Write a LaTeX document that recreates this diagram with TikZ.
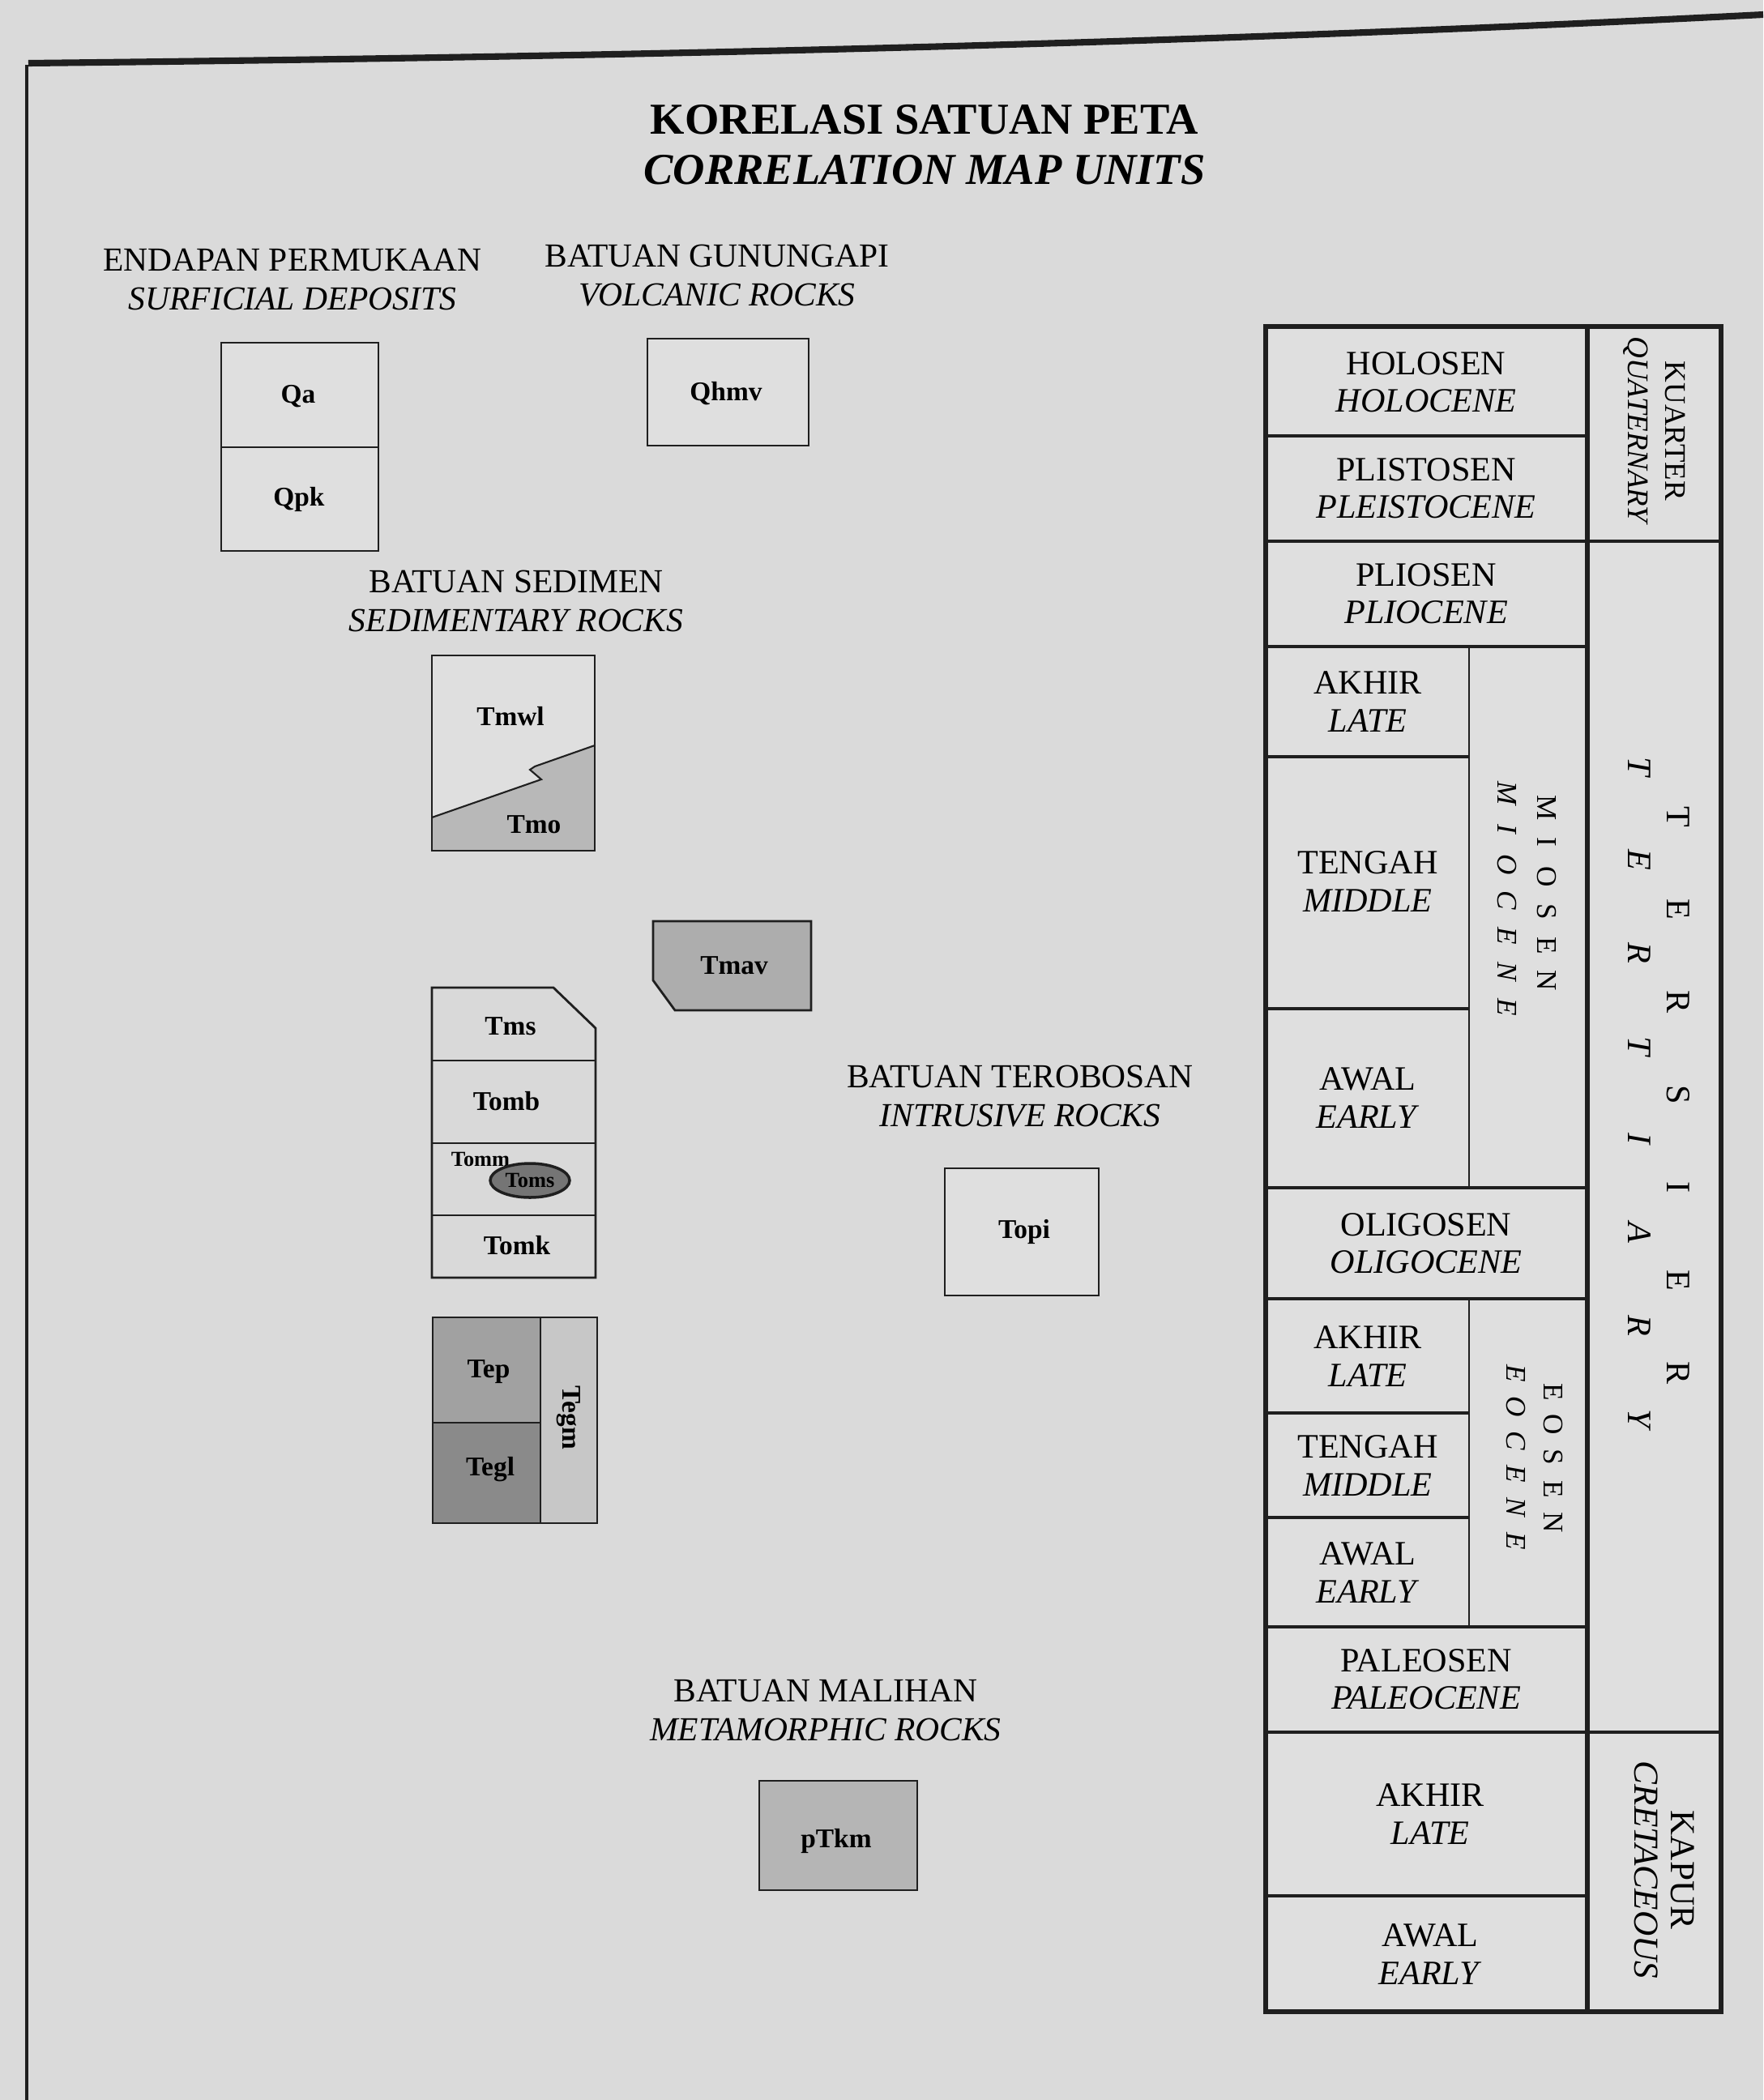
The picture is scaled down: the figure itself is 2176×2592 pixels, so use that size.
\documentclass[tikz,border=0pt]{standalone}
\usepackage{fontspec}
\setmainfont{Liberation Serif}
\usepackage{tikz}
\usetikzlibrary{positioning, shapes.geometric, calc}

\definecolor{paper}{gray}{0.855}
\definecolor{boxlight}{gray}{0.875}
\definecolor{tmsfill}{gray}{0.85}
\definecolor{tmofill}{gray}{0.72}
\definecolor{tmavfill}{gray}{0.68}
\definecolor{tepfill}{gray}{0.63}
\definecolor{teglfill}{gray}{0.54}
\definecolor{tegmfill}{gray}{0.78}
\definecolor{ptkmfill}{gray}{0.71}
\definecolor{tomsfill}{gray}{0.46}
\definecolor{inkc}{gray}{0.12}

\begin{document}
\begin{tikzpicture}[x=0.1mm, y=-0.1mm,
    unitbox/.style={draw=inkc, line width=0.8pt, fill=#1},
    unitbox/.default=boxlight,
    thin rule/.style={draw=inkc, line width=0.8pt},
    code/.style={font=\bfseries\fontsize{9.5}{11}\selectfont, inner sep=1pt},
    head/.style={align=center, font=\fontsize{11.8}{13.6}\selectfont},
    era/.style={align=center, font=\fontsize{12}{13.2}\selectfont},
    period/.style={align=center, rotate=-90, font=\fontsize{10.5}{13}\selectfont},
    vlet/.style={rotate=-90, inner sep=0pt},
    scaleline/.style={draw=inkc, line width=1.1pt},
]
\fill[paper] (0,0) rectangle (2176,2592);
\useasboundingbox (0,0) rectangle (2176,2592);

\draw[inkc, line width=2.3pt] (35,78) .. controls (760,70) and (1450,55) .. (2176,18);
\draw[inkc, line width=1.1pt] (33,80) -- (33,2592);

\node[align=center, font=\bfseries\fontsize{15.5}{17.6}\selectfont] (title) at (1141,179) {KORELASI SATUAN PETA\\\textit{CORRELATION MAP UNITS}};

\node[head] (surf) at (361,345) {ENDAPAN PERMUKAAN\\\textit{SURFICIAL DEPOSITS}};
\node[head] (volc) at (885,340) {BATUAN GUNUNGAPI\\\textit{VOLCANIC ROCKS}};
\node[head] (sedi) at (637,742) {BATUAN SEDIMEN\\\textit{SEDIMENTARY ROCKS}};
\node[head] (intr) at (1259,1353) {BATUAN TEROBOSAN\\\textit{INTRUSIVE ROCKS}};
\node[head] (meta) at (1019,2111) {BATUAN MALIHAN\\\textit{METAMORPHIC ROCKS}};

\draw[unitbox] (273,423) rectangle (467,680);
\draw[thin rule] (273,552) -- (467,552);
\node[code] (qa) at (368,489) {Qa};
\node[code] (qpk) at (369,616) {Qpk};

\draw[unitbox] (799,418) rectangle (998,550);
\node[code] (qhmv) at (896,486) {Qhmv};

\fill[boxlight] (533,809) rectangle (734,1050);
\fill[tmofill] (533,1009) -- (668,962) -- (654,950) -- (660,946) -- (734,920) -- (734,1050) -- (533,1050) -- cycle;
\draw[inkc, line width=0.6pt] (533,1009) -- (668,962) -- (654,950) -- (660,946) -- (734,920);
\draw[thin rule] (533,809) rectangle (734,1050);
\node[code] (tmwl) at (630,884) {Tmwl};
\node[code] (tmo) at (659,1018) {Tmo};

\draw[unitbox=tmavfill] (806,1137) -- (1001,1137) -- (1001,1247) -- (833,1247) -- (806,1210) -- cycle;
\node[code] (tmav) at (906,1192) {Tmav};

\draw[unitbox=tmsfill] (533,1219) -- (683,1219) -- (735,1269) -- (735,1577) -- (533,1577) -- cycle;
\foreach \yy in {1309,1411,1500}
  \draw[thin rule] (533,\yy) -- (735,\yy);
\node[code] (tms) at (630,1267) {Tms};
\node[code] (tomb) at (625,1359) {Tomb};
\node[code, font=\bfseries\fontsize{7.5}{9}\selectfont] (tomm) at (593,1431) {Tomm};
\node[ellipse, draw=inkc, line width=1pt, fill=tomsfill, inner sep=0pt, minimum width=9.8mm, minimum height=4.2mm, font=\bfseries\fontsize{7.5}{9}\selectfont] (toms) at (654,1457) {Toms};
\node[code] (tomk) at (638,1537) {Tomk};

\fill[tepfill] (534,1626) rectangle (667,1756);
\fill[teglfill] (534,1756) rectangle (667,1880);
\fill[tegmfill] (667,1626) rectangle (737,1880);
\draw[thin rule] (534,1626) rectangle (737,1880) (667,1626) -- (667,1880) (534,1756) -- (667,1756);
\node[code] (tep) at (603,1693) {Tep};
\node[code] (tegl) at (605,1814) {Tegl};
\node[code, rotate=-90] (tegm) at (702,1750) {Tegm};

\draw[unitbox] (1166,1442) rectangle (1356,1599);
\node[code] (topi) at (1264,1520) {Topi};

\draw[unitbox=ptkmfill] (937,2198) rectangle (1132,2333);
\node[code] (ptkm) at (1032,2272) {pTkm};

\fill[boxlight] (1562,403) rectangle (2124,2483);
\foreach \yy in {538,798,1466,1603,2008,2340}
  \draw[scaleline] (1562,\yy) -- (1959,\yy);
\foreach \yy in {934,1245,1744,1873}
  \draw[scaleline] (1562,\yy) -- (1813,\yy);
\foreach \yy in {668,2138}
  \draw[scaleline] (1562,\yy) -- (2124,\yy);
\draw[inkc, line width=0.6pt] (1813,798) -- (1813,1466) (1813,1603) -- (1813,2008);
\draw[inkc, line width=1.8pt] (1959,403) -- (1959,2483);
\draw[inkc, line width=1.8pt] (1562,403) rectangle (2124,2483);

\node[era] (holo) at (1760,472) {HOLOSEN\\\textit{HOLOCENE}};
\node[era] (pleis) at (1760,603) {PLISTOSEN\\\textit{PLEISTOCENE}};
\node[era] (plio) at (1760,733) {PLIOSEN\\\textit{PLIOCENE}};
\node[era] (lmio) at (1688,866) {AKHIR\\\textit{LATE}};
\node[era] (mmio) at (1688,1088) {TENGAH\\\textit{MIDDLE}};
\node[era] (emio) at (1688,1355) {AWAL\\\textit{EARLY}};
\node[era] (oligo) at (1760,1535) {OLIGOSEN\\\textit{OLIGOCENE}};
\node[era] (leo) at (1688,1674) {AKHIR\\\textit{LATE}};
\node[era] (meo) at (1688,1809) {TENGAH\\\textit{MIDDLE}};
\node[era] (eeo) at (1688,1941) {AWAL\\\textit{EARLY}};
\node[era] (paleo) at (1760,2073) {PALEOSEN\\\textit{PALEOCENE}};
\node[era] (lkap) at (1765,2239) {AKHIR\\\textit{LATE}};
\node[era] (ekap) at (1765,2412) {AWAL\\\textit{EARLY}};

\node[period] (quat) at (2042,532) {KUARTER\\\textit{QUATERNARY}};
\node[period, font=\fontsize{12.3}{12.8}\selectfont] (kapur) at (2054,2308) {KAPUR\\\textit{CRETACEOUS}};

\foreach \ch [count=\i from 0] in {T,E,R,S,I,E,R}
  \node[vlet, font=\fontsize{12}{14}\selectfont] (ters\i) at (2071,1008+114.5*\i) {\ch};
\foreach \ch [count=\i from 0] in {T,E,R,T,I,A,R,Y}
  \node[vlet, font=\itshape\fontsize{12}{14}\selectfont] (tert\i) at (2023,946+115*\i) {\ch};
\foreach \ch [count=\i from 0] in {M,I,O,S,E,N}
  \node[vlet, font=\fontsize{10}{12}\selectfont] (mios\i) at (1909,997+42.6*\i) {\ch};
\foreach \ch [count=\i from 0] in {M,I,O,C,E,N,E}
  \node[vlet, font=\itshape\fontsize{10}{12}\selectfont] (mioc\i) at (1860,979+44*\i) {\ch};
\foreach \ch [count=\i from 0] in {E,O,S,E,N}
  \node[vlet, font=\fontsize{10}{12}\selectfont] (eos\i) at (1917,1718+40.2*\i) {\ch};
\foreach \ch [count=\i from 0] in {E,O,C,E,N,E}
  \node[vlet, font=\itshape\fontsize{10}{12}\selectfont] (eoc\i) at (1871,1695+41.4*\i) {\ch};
\end{tikzpicture}
\end{document}
